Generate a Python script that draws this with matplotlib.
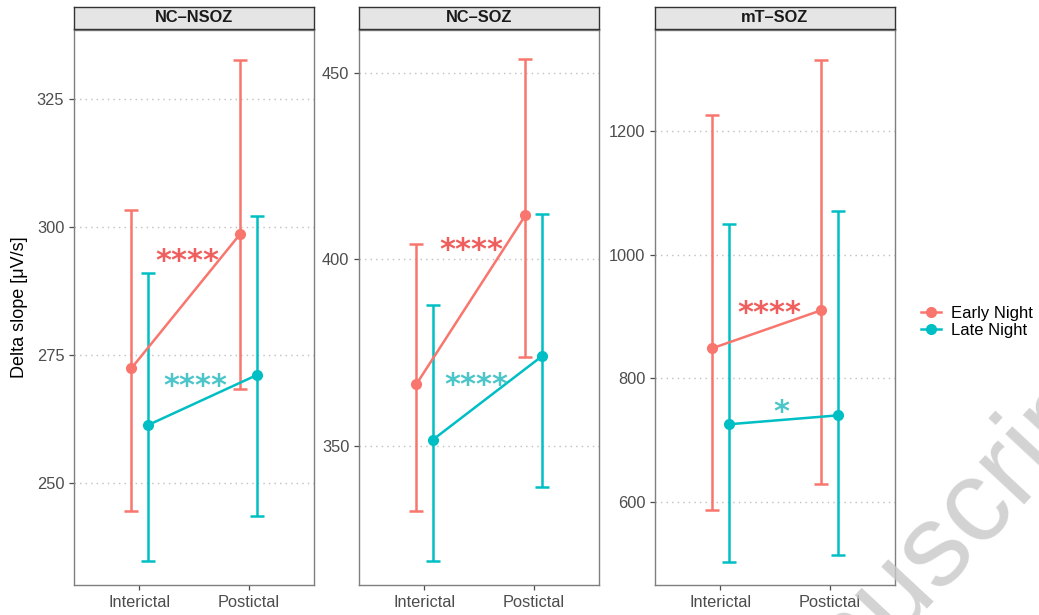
import numpy as np
import matplotlib
matplotlib.use("Agg")
import matplotlib.pyplot as plt

plt.rcParams['font.family'] = ['Liberation Sans', 'DejaVu Sans']

# Datos
panels = ["NC\u2013NSOZ", "NC\u2013SOZ", "mT\u2013SOZ"]
phases = ["Interictal", "Postictal"]
groups = ["Early Night", "Late Night"]
colors = ["#F8766D", "#00BFC4"]
star_colors = ["#EE5F5D", "#4CC5C8"]

# media, limite inferior, limite superior  [panel][grupo][fase]
means = [
    [[272.4, 298.7], [261.3, 271.1]],
    [[366.5, 411.8], [351.6, 374.0]],
    [[848.5, 910.0], [725.6, 740.0]],
]
lows = [
    [[244.5, 268.4], [234.8, 243.6]],
    [[332.6, 373.7], [319.2, 339.0]],
    [[587.0, 629.0], [503.0, 514.0]],
]
highs = [
    [[303.3, 332.6], [291.0, 302.1]],
    [[404.0, 453.6], [387.7, 412.3]],
    [[1226.0, 1315.0], [1050.0, 1071.0]],
]
yticks = [[250, 275, 300, 325], [350, 400, 450], [600, 800, 1000, 1200]]
ylims = [(230.1, 338.5), (312.7, 461.5), (465.8, 1363.0)]

# anotaciones: (texto, x, y) por grupo
stars = [
    [("****", 1.44, 294.7), ("****", 1.51, 270.3)],
    [("****", 1.43, 404.3), ("****", 1.48, 368.0)],
    [("****", 1.45, 916.5), ("*", 1.555, 756.0)],
]

fig = plt.figure(figsize=(10.39, 6.15), dpi=100)
lefts = [74, 359, 655]
W, H = 1039, 615
dodge = 0.075

for p in range(3):
    ax = fig.add_axes([lefts[p] / W, 30 / H, 240 / W, 555 / H])
    x = np.arange(1, 3)
    for g in range(2):
        xs = x + (-dodge if g == 0 else dodge)
        m = np.array(means[p][g])
        lo = np.array(lows[p][g])
        hi = np.array(highs[p][g])
        ax.errorbar(xs, m, yerr=[m - lo, hi - m], fmt='none', ecolor=colors[g],
                    elinewidth=1.8, capsize=5, capthick=1.8, zorder=3)
        ax.plot(xs, m, color=colors[g], lw=1.8, marker='o', ms=7, zorder=4)
        txt, sx, sy = stars[p][g]
        ax.annotate(txt, (sx, sy), xytext=(0, -5), textcoords='offset points',
                    color=star_colors[g], fontsize=22, fontweight='bold',
                    family='DejaVu Sans', ha='center', va='center', zorder=5)
    ax.set_xlim(0.4, 2.6)
    ax.set_ylim(*ylims[p])
    ax.set_xticks(x)
    ax.set_xticklabels(phases)
    ax.set_yticks(yticks[p])
    ax.tick_params(colors='#4D4D4D', labelsize=11.8, length=3.5, width=0.9,
                   labelcolor='#4D4D4D')
    ax.grid(axis='y', linestyle=(0, (1, 3)), color='#BFBFBF', lw=1)
    ax.set_axisbelow(True)
    for s in ax.spines.values():
        s.set_color('#7F7F7F')
        s.set_linewidth(1.0)
    # tira del panel
    sax = fig.add_axes([lefts[p] / W, (H - 29) / H, 240 / W, 22 / H])
    sax.set_facecolor('#E5E5E5')
    sax.set_xticks([])
    sax.set_yticks([])
    for s in sax.spines.values():
        s.set_color('#333333')
        s.set_linewidth(1.0)
    sax.text(0.5, 0.5, panels[p], ha='center', va='center', fontsize=11.8,
             fontweight='bold', color='#1A1A1A', transform=sax.transAxes)
    if p == 0:
        ax.set_ylabel("Delta slope [\u03bcV/s]", fontsize=13, labelpad=6)

# leyenda
handles = [plt.Line2D([], [], color=colors[g], lw=1.8, marker='o', ms=7)
           for g in range(2)]
fig.legend(handles, groups, loc='center left', bbox_to_anchor=(906 / W, 1 - 322 / H),
           frameon=False, fontsize=12, handlelength=1.2, handletextpad=0.6,
           labelspacing=0.15)

# marca de agua
fig.text(910 / W, 1 - 572 / H, "Manuscript", fontsize=84, color='#C8C8C8',
         rotation=47, ha='center', va='center', alpha=0.8, zorder=0)

fig.savefig("out.png", dpi=100)
